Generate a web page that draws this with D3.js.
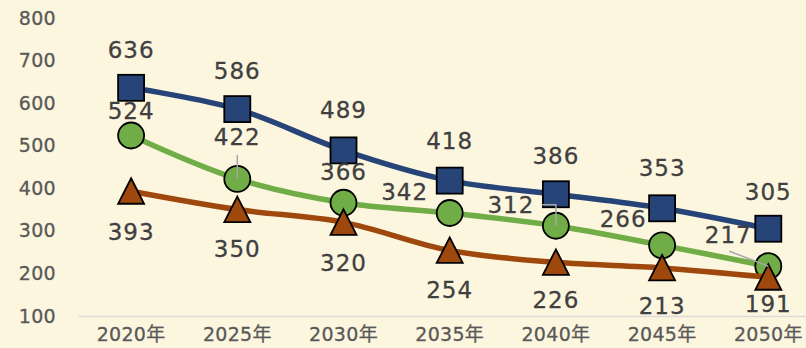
<!DOCTYPE html>
<html>
<head>
<meta charset="utf-8">
<script src="https://cdn.jsdelivr.net/npm/d3@7"></script>
<style>
  html, body { margin: 0; padding: 0; background: #FDF6DF; }
  svg { display: block; }
</style>
</head>
<body>
<svg id="chart" width="806" height="348"></svg>
<script>
// Three-series trend over 2020–2050
const categories = ["2020年", "2025年", "2030年", "2035年", "2040年", "2045年", "2050年"];
const seriesBlue   = [636, 586, 489, 418, 386, 353, 305];
const seriesGreen  = [524, 422, 366, 342, 312, 266, 217];
const seriesOrange = [393, 350, 320, 254, 226, 213, 191];
const yTicks = [100, 200, 300, 400, 500, 600, 700, 800];

const svg = d3.select("#chart");

const x = d3.scaleBand().domain(categories).range([78, 821.4]);
const y = d3.scaleLinear().domain([100, 800]).range([316, 18]);
const cx = c => x(c) + x.bandwidth() / 2;

const fontFam = "'DejaVu Sans', 'Noto Sans CJK JP', sans-serif";

function styleTicks(sel) {
  sel.attr("fill", "#595959")
    .attr("stroke", "#595959")
    .attr("stroke-width", 0.3)
    .attr("font-family", fontFam)
    .attr("font-size", 19)
    .attr("letter-spacing", "0.3px");
}

// y axis labels (no axis line, no gridlines)
const yAxis = d3.axisLeft(y).tickValues(yTicks).tickSize(0).tickPadding(0);
const gy = svg.append("g").attr("transform", "translate(56,0)").call(yAxis);
gy.select(".domain").remove();
styleTicks(gy.selectAll("text"));

// x axis with baseline
const xAxis = d3.axisBottom(x).tickSize(0).tickPadding(12);
const gx = svg.append("g").attr("transform", "translate(0,316)").call(xAxis);
gx.select(".domain").attr("stroke", "#D9D9D9").attr("stroke-width", 1.5);
styleTicks(gx.selectAll("text"));

const line = d3.line()
  .x((d, i) => cx(categories[i]))
  .y(d => y(d))
  .curve(d3.curveCatmullRom.alpha(0.5));

// series in drawing order: each line with its markers, later series on top
const series = [
  { values: seriesBlue,   color: "#264478", shape: "square" },
  { values: seriesGreen,  color: "#70AD47", shape: "circle" },
  { values: seriesOrange, color: "#9E480E", shape: "triangle" }
];

function drawMarkers(g, s) {
  s.values.forEach((v, i) => {
    const px = cx(categories[i]), py = y(v);
    if (s.shape === "square") {
      g.append("rect").attr("x", px - 13).attr("y", py - 13).attr("width", 26).attr("height", 26)
        .attr("fill", s.color).attr("stroke", "#000").attr("stroke-width", 1.8);
    } else if (s.shape === "circle") {
      g.append("circle").attr("cx", px).attr("cy", py).attr("r", 13)
        .attr("fill", s.color).attr("stroke", "#000").attr("stroke-width", 1.8);
    } else {
      const tri = d3.line()([[px, py - 13], [px + 13, py + 12.5], [px - 13, py + 12.5]]) + "Z";
      g.append("path").attr("d", tri)
        .attr("fill", s.color).attr("stroke", "#000").attr("stroke-width", 1.8)
        .attr("stroke-linejoin", "miter");
    }
  });
}

series.forEach(s => {
  const g = svg.append("g");
  g.append("path")
    .attr("d", line(s.values))
    .attr("fill", "none")
    .attr("stroke", s.color)
    .attr("stroke-width", 5.5)
    .attr("stroke-linejoin", "round");
  drawMarkers(g, s);
});

// label offsets (dx, dy) relative to each marker
const labelOffsetBlue   = [[0,-38],[0,-38],[0,-40],[0,-40],[0,-38],[0,-40],[0,-37]];
const labelOffsetGreen  = [[0,-24],[0,-42],[0,-31],[-45,-21],[-45,-21],[-39,-26],[-40,-31]];
const labelOffsetOrange = [[0,41],[0,39],[0,41],[0,40],[0,38],[0,38],[0,27]];

// leader lines from displaced labels back to the markers
const leaders = [
  [[cx(categories[1]), y(seriesGreen[1]) - 24], [cx(categories[1]), y(seriesGreen[1])]],
  [[cx(categories[4]) - 14, y(seriesGreen[4]) - 21], [cx(categories[4]), y(seriesGreen[4]) - 21], [cx(categories[4]), y(seriesGreen[4])]],
  [[cx(categories[6]) - 39, y(seriesGreen[6]) - 15], [cx(categories[6]), y(seriesGreen[6])]]
];
leaders.forEach(pts => {
  svg.append("path")
    .attr("d", d3.line()(pts))
    .attr("fill", "none")
    .attr("stroke", "#A6A6A6")
    .attr("stroke-width", 1.5);
});

function drawLabels(values, offsets) {
  values.forEach((v, i) => {
    svg.append("text")
      .attr("x", cx(categories[i]) + offsets[i][0])
      .attr("y", y(v) + offsets[i][1])
      .attr("text-anchor", "middle")
      .attr("dominant-baseline", "central")
      .attr("fill", "#404040")
      .attr("stroke", "#404040")
      .attr("stroke-width", 0.3)
      .attr("font-family", fontFam)
      .attr("font-size", 23)
      .attr("letter-spacing", "1px")
      .text(v);
  });
}
drawLabels(seriesOrange, labelOffsetOrange);
drawLabels(seriesGreen, labelOffsetGreen);
drawLabels(seriesBlue, labelOffsetBlue);
</script>
</body>
</html>
